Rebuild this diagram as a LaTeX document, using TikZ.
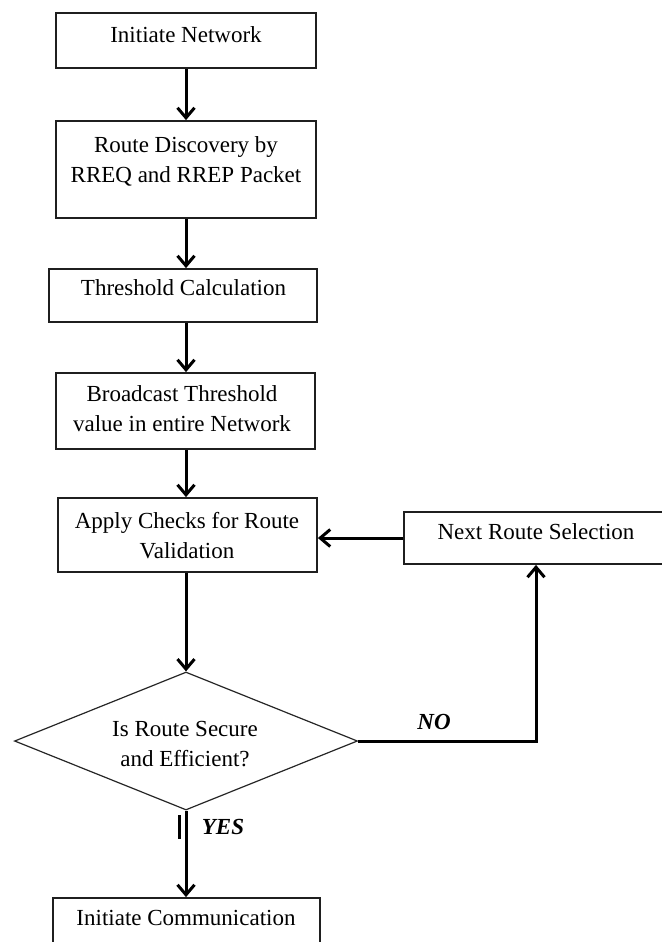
\documentclass[tikz,border=0pt]{standalone}
\usepackage{fontspec}
\setmainfont{Liberation Serif}
\usetikzlibrary{arrows.meta,shapes.geometric}
\begin{document}
\begin{tikzpicture}[x=0.5pt,y=-0.5pt,
  box/.style={draw=black!88, line width=0.9pt, rectangle, inner sep=0pt},
  lbl/.style={align=center, inner sep=0pt, font=\fontsize{11.5}{15}\selectfont},
  flow/.style={line width=1.5pt, -{Straight Barb[length=5pt,width=8.5pt]}},
  ans/.style={inner sep=0pt, font=\fontsize{11.5}{14}\selectfont\bfseries\itshape},
  decision/.style={draw=black!85, line width=0.6pt, diamond, inner sep=0pt}]
\useasboundingbox (0,0) rectangle (661,942);
\fill[white] (0,0) rectangle (661,942);

% process boxes
\node[box, minimum width=130pt, minimum height=27.5pt] (n1) at (186,40.5) {};
\node[box, minimum width=130pt, minimum height=48.5pt] (n2) at (186,169.5) {};
\node[box, minimum width=134pt, minimum height=26.5pt] (n3) at (183,295.5) {};
\node[box, minimum width=129.5pt, minimum height=38pt] (n4) at (185.5,411) {};
\node[box, minimum width=129.5pt, minimum height=37pt] (n5) at (187.5,535) {};
\node[box, minimum width=138pt, minimum height=26pt] (n6) at (542,538) {};
\node[decision, minimum width=171.5pt, minimum height=69pt] (d) at (186,741) {};
\node[box, minimum width=133.5pt, minimum height=41pt] (n7) at (186.5,939) {};

% box texts
\node[lbl] (t1) at (186,35) {Initiate Network};
\node[lbl] (t2) at (186,161) {Route Discovery by\\RREQ and RREP Packet};
\node[lbl] (t3) at (183.5,288) {Threshold Calculation};
\node[lbl] (t4) at (182,408.5) {Broadcast Threshold\\value in entire Network};
\node[lbl] (t5) at (187,535.5) {Apply Checks for Route\\Validation};
\node[lbl] (t6) at (536,532) {Next Route Selection};
\node[lbl] (td) at (185,744) {Is Route Secure\\and Efficient?};
\node[lbl] (t7) at (186,918) {Initiate Communication};

% main flow
\draw[flow] (n1.south) -- (n2.north);
\draw[flow] (n2.south) -- (n2.south |- n3.north);
\draw[flow] (n2.south |- n3.south) -- (n2.south |- n4.north);
\draw[flow] (n2.south |- n4.south) -- (n2.south |- n5.north);
\draw[flow] (n2.south |- n5.south) -- (d.north);
\draw[flow] (d.south) -- (d.south |- n7.north);

% rejection loop
\coordinate (nocorner) at (536,741);
\draw[flow] (d.east) -- (nocorner) -- (nocorner |- n6.south);
\draw[flow] (n6.west) -- (n5.east |- n6.west);

% branch labels
\node[ans] (no) at (434,722) {NO};
\node[ans] (yes) at (223,827) {YES};
\coordinate (bartop) at (179.5,815);
\coordinate (barbot) at (179.5,839);
\draw[line width=1.5pt] (bartop) -- (barbot);
\end{tikzpicture}
\end{document}
